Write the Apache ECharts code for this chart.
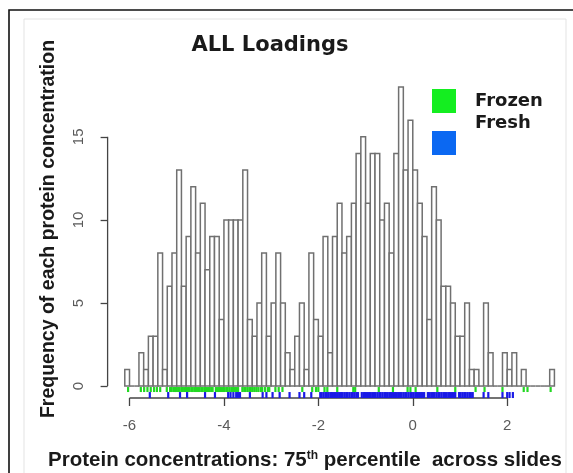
<!DOCTYPE html>
<html>
<head>
<meta charset="utf-8">
<script src="https://cdn.jsdelivr.net/npm/echarts@6/dist/echarts.min.js"></script>
<style>
html, body { margin: 0; padding: 0; background: #fff; }
#box { width: 573px; height: 473px; }
</style>
</head>
<body>
<div id="box"></div>
<script>
// histogram bins, 0.1 wide, starting at -6.1
const binStart = -6.1;
const binWidth = 0.1;
const binCounts = [
    1, 0, 0, 2, 1, 3, 3, 8, 1, 6,
    8, 13, 6, 9, 12, 8, 11, 7, 9, 9,
    4, 10, 10, 10, 10, 13, 4, 3, 5, 8,
    3, 5, 8, 5, 2, 1, 3, 5, 1, 8,
    4, 3, 9, 2, 9, 11, 8, 9, 11, 14,
    15, 11, 14, 14, 10, 11, 8, 14, 18, 13,
    16, 13, 11, 9, 4, 12, 10, 6, 6, 5,
    3, 3, 5, 1, 1, 0, 5, 2, 0, 0,
    2, 1, 2, 0, 1, 0, 0, 0, 0, 0,
    1
];
const xTicks = [-6, -4, -2, 0, 2];
const yTicks = [0, 5, 10, 15];

// rug marks under the histogram
const frozenRug = [
    -6.03, -5.76, -5.69, -5.62, -5.55, -5.48, -5.42, -5.35, -5.21,
    -5.14, -5.11, -5.07, -5.04, -5.01, -4.97, -4.94, -4.9, -4.87, -4.83,
    -4.8, -4.76, -4.73, -4.69, -4.66, -4.62, -4.59, -4.55, -4.52, -4.48,
    -4.45, -4.41, -4.38, -4.34, -4.31, -4.27, -4.24, -4.17, -4.13, -4.1,
    -4.06, -4.02, -3.99, -3.95, -3.92, -3.88, -3.84, -3.81, -3.77, -3.74,
    -3.7, -3.61, -3.57, -3.54, -3.5, -3.46, -3.43, -3.39, -3.35, -3.31,
    -3.27, -3.22, -3.19, -3.13, -3.07, -3.04,
    -2.91, -2.84, -2.76, -2.34, -2.13, -2.05, -2.0, -1.87, -1.81, -1.6,
    -1.26, -1.22, -0.72, -0.42, -0.11, -0.05, 0.06, 0.52, 0.9, 1.33,
    1.52, 1.9, 2.35, 2.43, 2.92
];
const freshRug = [
    -5.57, -5.18, -4.93, -4.78, -4.4, -4.19, -3.91, -3.86, -3.8, -3.74,
    -3.7, -3.66, -3.45, -3.18, -3.1, -2.97, -2.82, -2.61, -2.4, -2.3,
    -2.15,
    -1.96, -1.93, -1.89, -1.85, -1.82, -1.78, -1.74, -1.71, -1.67, -1.63,
    -1.6, -1.56, -1.52, -1.49, -1.45, -1.41, -1.38, -1.34, -1.3, -1.27,
    -1.23, -1.19, -1.16, -1.08, -1.04, -1.01, -0.97, -0.93, -0.9, -0.86,
    -0.82, -0.79, -0.75, -0.71, -0.68, -0.64, -0.6, -0.57, -0.53, -0.49,
    -0.46, -0.42, -0.38, -0.35, -0.31, -0.27, -0.24, -0.2, -0.16, -0.13,
    -0.09, -0.05, -0.02, 0.02, 0.06, 0.09, 0.13, 0.17, 0.2, 0.24,
    0.32, 0.35, 0.39, 0.43, 0.46, 0.5, 0.54, 0.57, 0.61, 0.65,
    0.68, 0.72, 0.76, 0.79, 0.83, 0.87, 0.9, 0.98, 1.01, 1.05,
    1.09, 1.12, 1.16, 1.2, 1.23, 1.27,
    1.5, 1.6, 1.9, 2.0, 2.05, 2.12
];

const binEnd = binStart + binCounts.length * binWidth;
const xMin = binStart - 0.04 * (binEnd - binStart);
const xMax = binEnd + 0.04 * (binEnd - binStart);
const yMax = Math.max.apply(null, binCounts);
const yMin = -0.04 * yMax;
const yTop = yMax * 1.04;

const bins = binCounts.map(function (c, i) {
    return [binStart + i * binWidth, binStart + (i + 1) * binWidth, c];
});

function renderBin(params, api) {
    const p0 = api.coord([api.value(0), 0]);
    const p1 = api.coord([api.value(1), api.value(2)]);
    const style = { fill: '#fff', stroke: '#707070', lineWidth: 1.5 };
    if (api.value(2) === 0) {
        return { type: 'line', shape: { x1: p0[0], y1: p0[1], x2: p1[0], y2: p0[1] }, style: style };
    }
    return {
        type: 'rect',
        shape: { x: p0[0], y: p1[1], width: p1[0] - p0[0], height: p0[1] - p1[1] },
        style: style
    };
}

function rugRenderer(from, to, color) {
    return function (params, api) {
        const p = api.coord([api.value(0), 0]);
        return {
            type: 'line',
            shape: { x1: p[0], y1: p[1] + from, x2: p[0], y2: p[1] + to },
            style: { stroke: color, lineWidth: 2.2 }
        };
    };
}

// R style axis lines: only between first and last tick
function renderAxes(params, api) {
    const a = api.coord([xTicks[0], yMin]);
    const b = api.coord([xTicks[xTicks.length - 1], yMin]);
    const c = api.coord([xMin, yTicks[0]]);
    const d = api.coord([xMin, yTicks[yTicks.length - 1]]);
    const st = { stroke: '#444', lineWidth: 1.3 };
    return {
        type: 'group',
        children: [
            { type: 'line', shape: { x1: a[0], y1: a[1], x2: b[0], y2: b[1] }, style: st },
            { type: 'line', shape: { x1: c[0], y1: c[1], x2: d[0], y2: d[1] }, style: st }
        ]
    };
}

const tickFont = { color: '#5a5a5a', fontSize: 15, fontFamily: 'Liberation Sans' };
const legendFont = { fontFamily: 'DejaVu Sans', fontWeight: 'bold', fontSize: 18, color: '#1a1a1a' };

const chart = echarts.init(document.getElementById('box'));

chart.setOption({
    animation: false,
    title: {
        text: 'ALL Loadings',
        left: 270,
        top: 35,
        textAlign: 'center',
        padding: 0,
        textStyle: { fontFamily: 'DejaVu Sans', fontWeight: 'bold', fontSize: 21, color: '#1a1a1a' }
    },
    legend: {
        orient: 'vertical',
        left: 432,
        top: 89,
        padding: 0,
        icon: 'rect',
        itemWidth: 24,
        itemHeight: 24,
        itemGap: 1,
        selectedMode: false,
        data: ['Frozen', 'Fresh'],
        formatter: function (name) {
            return '{' + (name === 'Fresh' ? 'up' : 'n') + '|' + name + '}';
        },
        textStyle: Object.assign({
            rich: {
                n: Object.assign({ padding: [0, 0, 0, 14] }, legendFont),
                up: Object.assign({ padding: [0, 0, 40, 14] }, legendFont)
            }
        }, legendFont)
    },
    grid: { left: 107.6, right: 1.4, top: 75, bottom: 75 },
    xAxis: {
        type: 'value',
        min: xMin,
        max: xMax,
        axisLine: { show: false, onZero: false },
        splitLine: { show: false },
        axisTick: { show: true, customValues: xTicks, length: 8, lineStyle: { color: '#444', width: 1.3 } },
        axisLabel: Object.assign({ customValues: xTicks, margin: 20 }, tickFont)
    },
    yAxis: {
        type: 'value',
        min: yMin,
        max: yTop,
        axisLine: { show: false, onZero: false },
        splitLine: { show: false },
        axisTick: { show: true, customValues: yTicks, length: 7, lineStyle: { color: '#444', width: 1.3 } },
        axisLabel: Object.assign({ customValues: yTicks, rotate: 90, margin: 21 }, tickFont)
    },
    graphic: [
        { type: 'rect', z: -10, shape: { x: 9, y: 10, width: 600, height: 500 }, style: { fill: 'none', stroke: '#111', lineWidth: 1.6 } },
        { type: 'rect', z: -10, shape: { x: 24, y: 19, width: 542, height: 500 }, style: { fill: 'none', stroke: '#e3e3e3', lineWidth: 1 } },
        {
            type: 'text', x: 49, y: 229, rotation: Math.PI / 2,
            style: {
                text: 'Frequency of each protein concentration',
                fontFamily: 'Liberation Sans', fontWeight: 'bold', fontSize: 19.5,
                fill: '#1a1a1a', align: 'center', verticalAlign: 'middle'
            }
        },
        {
            type: 'text', x: 305, y: 460,
            style: {
                text: '{a|Protein concentrations: 75}{s|th}{a| percentile  across slides}',
                align: 'center', verticalAlign: 'middle',
                rich: {
                    a: { fontFamily: 'Liberation Sans', fontWeight: 'bold', fontSize: 20.5, fill: '#1a1a1a' },
                    s: { fontFamily: 'Liberation Sans', fontWeight: 'bold', fontSize: 12, fill: '#1a1a1a', verticalAlign: 'top' }
                }
            }
        }
    ],
    series: [
        {
            name: 'bins',
            type: 'custom',
            coordinateSystem: 'cartesian2d',
            renderItem: renderBin,
            data: bins,
            silent: true
        },
        {
            name: 'axes',
            type: 'custom',
            coordinateSystem: 'cartesian2d',
            renderItem: renderAxes,
            data: [[xTicks[0], yTicks[0]]],
            silent: true
        },
        {
            name: 'Frozen',
            type: 'custom',
            coordinateSystem: 'cartesian2d',
            itemStyle: { color: '#14ee20' },
            renderItem: rugRenderer(1, 6, '#22d822'),
            data: frozenRug.map(function (v) { return [v]; }),
            silent: true
        },
        {
            name: 'Fresh',
            type: 'custom',
            coordinateSystem: 'cartesian2d',
            itemStyle: { color: '#0b68f2' },
            renderItem: rugRenderer(6, 12, '#1a1ae6'),
            data: freshRug.map(function (v) { return [v]; }),
            silent: true
        }
    ]
});
</script>
</body>
</html>
